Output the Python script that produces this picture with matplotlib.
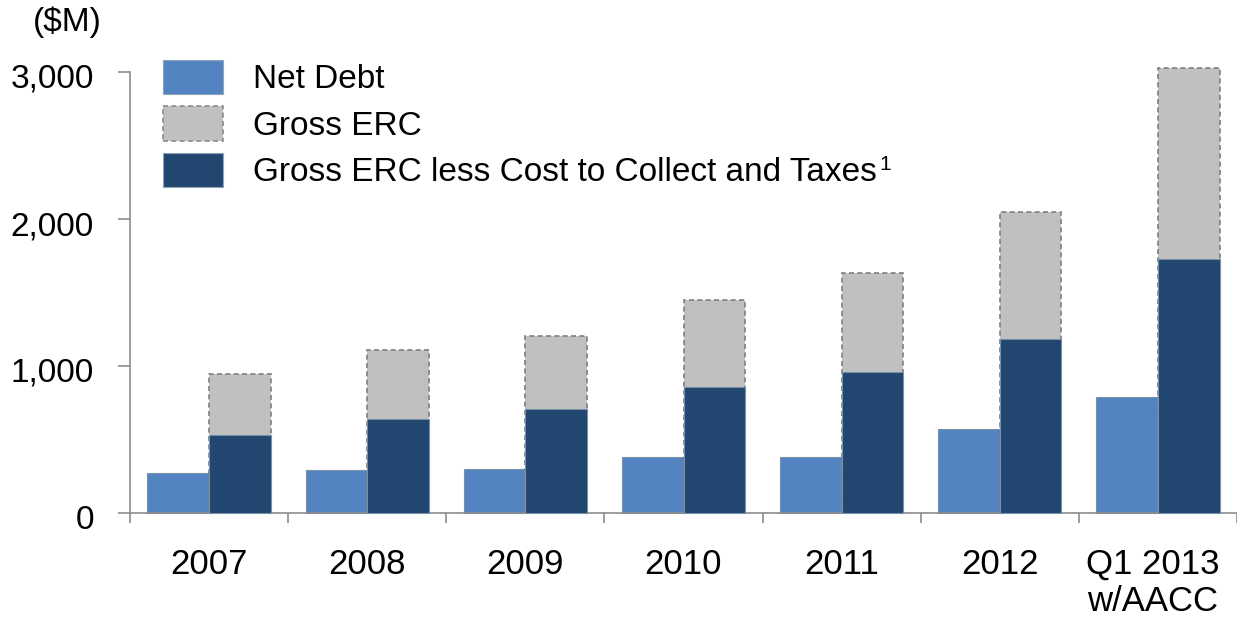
import matplotlib
matplotlib.use("Agg")
import matplotlib.pyplot as plt
from matplotlib.patches import Patch
from matplotlib.transforms import ScaledTranslation
import numpy as np

categories = ["2007", "2008", "2009", "2010", "2011", "2012", "Q1 2013\nw/AACC"]
net_debt = [272, 292, 300, 381, 381, 571, 789]
gross_erc = [945, 1108, 1204, 1448, 1632, 2047, 3025]
gross_erc_less = [530, 640, 707, 857, 959, 1183, 1727]

c_net = "#5383C0"
c_gross = "#C0C0C0"
c_dark = "#21466F"
c_axis = "#8C8C8C"

plt.rcParams['font.family'] = ['Liberation Sans', 'DejaVu Sans']

W, H = 1237, 618
fig = plt.figure(figsize=(W / 100, H / 100), dpi=100)
ax = fig.add_axes([130 / W, 1 - 513 / H, 1 - 130 / W, (513 - 72) / H])

x = np.arange(len(categories))
bw = 0.39
ax.bar(x - bw / 2, net_debt, width=bw, color=c_net, edgecolor="#7A8FA8",
       linewidth=0.8, clip_on=False, zorder=2)
ax.bar(x + bw / 2, gross_erc, width=bw, color=c_gross, edgecolor="#7F7F7F",
       linewidth=1.2, linestyle=(0, (3, 2)), clip_on=False, zorder=2)
ax.bar(x + bw / 2, gross_erc_less, width=bw, color=c_dark, edgecolor="#7A8FA8",
       linewidth=0.8, clip_on=False, zorder=3)

ax.set_xlim(-0.5, len(categories) - 0.5)
ax.set_ylim(0, 3000)

for s in ["top", "right"]:
    ax.spines[s].set_visible(False)
for s in ["left", "bottom"]:
    ax.spines[s].set_color(c_axis)
    ax.spines[s].set_linewidth(1.2)

ax.set_yticks([0, 1000, 2000, 3000])
ax.set_yticklabels(["0", "1,000", "2,000", "3,000"])
ax.tick_params(axis="y", length=9, width=1.2, color=c_axis, pad=17,
               labelsize=24, direction="out")
off = ScaledTranslation(0, -4 / 100, fig.dpi_scale_trans)
for lbl in ax.get_yticklabels():
    lbl.set_transform(lbl.get_transform() + off)

ax.set_xticks(x)
ax.set_xticklabels(categories, linespacing=1.15)
ax.set_xticks(np.arange(-0.5, len(categories) - 0.4, 1.0), minor=True)
ax.tick_params(axis="x", which="major", length=0, pad=25, labelsize=25)
ax.tick_params(axis="x", which="minor", length=7, width=1.2, color=c_axis,
               direction="out")
last = ax.get_xticklabels()[-1]
last.set_transform(last.get_transform() + ScaledTranslation(-5 / 100, 0, fig.dpi_scale_trans))

fig.text(67 / W, 1 - 22 / H, "($M)", fontsize=24, ha="center", va="center")

handles = [
    Patch(facecolor=c_net, edgecolor="#8FA3BA", linewidth=0.8),
    Patch(facecolor=c_gross, edgecolor="#8C8C8C", linewidth=1.2, linestyle=(0, (3, 2))),
    Patch(facecolor=c_dark, edgecolor="#8FA3BA", linewidth=0.8),
]
labels = ["Net Debt", "Gross ERC", "Gross ERC less Cost to Collect and Taxes"]
fig.legend(handles, labels, loc="upper left",
           bbox_to_anchor=(163 / W, 1 - 60 / H), bbox_transform=fig.transFigure,
           frameon=False, fontsize=24, handlelength=1.8, handleheight=1.2,
           handletextpad=0.9, labelspacing=0.33, borderpad=0, borderaxespad=0)

fig.text(879 / W, 1 - 165 / H, "1", fontsize=15, ha="left", va="center")

fig.savefig("out.png", dpi=100)
